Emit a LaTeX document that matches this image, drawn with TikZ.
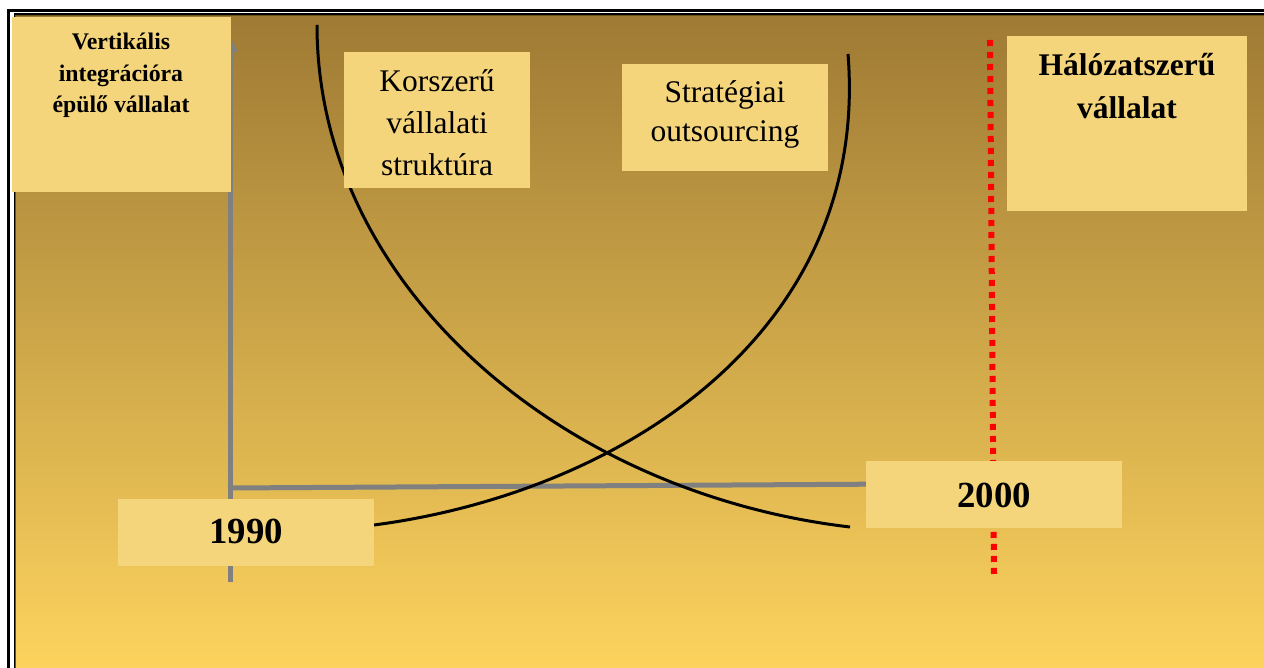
\documentclass[tikz,border=0pt]{standalone}
\usepackage{fontspec}
\setmainfont{Liberation Serif}
\usetikzlibrary{arrows.meta}

\definecolor{panelTop}{RGB}{158,122,52}
\definecolor{panelBottom}{RGB}{253,211,94}
\definecolor{panelEdge}{RGB}{110,82,30}
\definecolor{cardFill}{RGB}{245,213,124}
\definecolor{axisGray}{RGB}{128,128,128}

\begin{document}
\begin{tikzpicture}[x=1pt,y=-1pt,
  card/.style={fill=cardFill, draw=none, inner sep=0pt, anchor=north west},
  smallbold/.style={anchor=base, inner sep=0pt, font=\fontsize{23.8}{30}\selectfont\bfseries},
  bigbold/.style={anchor=base, inner sep=0pt, font=\fontsize{31.5}{40}\selectfont\bfseries},
  plain/.style={anchor=base, inner sep=0pt, font=\fontsize{31.5}{40}\selectfont},
  year/.style={anchor=base, inner sep=0pt, font=\fontsize{36.8}{44}\selectfont\bfseries},
  axis/.style={draw=axisGray, line width=5pt},
  trend/.style={draw=black, line width=3pt},
  milestone/.style={draw=red, line width=6pt, dash pattern=on 6pt off 6pt}]

\useasboundingbox (0,0) rectangle (1264,668);
\fill[white] (0,0) rectangle (1264,668);

% gradient panel with its double frame
\shade[top color=panelTop, bottom color=panelBottom] (15,15) rectangle (1264,668);
\draw[black, line width=2.6pt] (8.5,668) -- (8.5,10.3) -- (1264,10.3);
\draw[black, line width=2pt] (14.5,668) -- (14.5,14) -- (1264,14);
\draw[panelEdge, line width=1.2pt] (15.5,668) -- (15.5,15.8) -- (1264,15.8);

% time axes
\coordinate (yBottom) at (230,582);
\coordinate (yTop) at (230,37);
\coordinate (origin) at (228,488);
\coordinate (xEnd) at (900,484);
\draw[axis, -{Triangle[length=15pt,width=15pt]}] (yBottom) -- (yTop);
\draw[axis, -{Triangle[length=15pt,width=15pt]}] (origin) -- (xEnd);

% milestone at 2000
\coordinate (mTop) at (990,40);
\coordinate (mBottom) at (994,574);
\draw[milestone] (mTop) -- (mBottom);

% the two crossing trends
\coordinate (fallStart) at (317,25);
\coordinate (fallEnd) at (850,527);
\coordinate (riseStart) at (374,525);
\coordinate (riseEnd) at (848,54);
\draw[trend] (fallStart) .. controls (317,285) and (560,493) .. (fallEnd);
\draw[trend] (riseStart) .. controls (625,492) and (870,330) .. (riseEnd);

% cards
\node[card, minimum width=219pt, minimum height=175pt] (vert) at (12,17) {};
\node[smallbold] (vert1) at (121,50) {Vertikális};
\node[smallbold] (vert2) at (121,82) {integrációra};
\node[smallbold] (vert3) at (121,113) {épülő vállalat};

\node[card, minimum width=186pt, minimum height=136pt] (modern) at (344,52) {};
\node[plain] (modern1) at (437,92) {Korszerű};
\node[plain] (modern2) at (437,134) {vállalati};
\node[plain] (modern3) at (437,176) {struktúra};

\node[card, minimum width=206pt, minimum height=107pt] (outs) at (622,64) {};
\node[plain] (outs1) at (725,103) {Stratégiai};
\node[plain] (outs2) at (725,142) {outsourcing};

\node[card, minimum width=240pt, minimum height=175pt] (net) at (1007,36) {};
\node[bigbold] (net1) at (1127,76) {Hálózatszerű};
\node[bigbold] (net2) at (1127,119) {vállalat};

\node[card, minimum width=256pt, minimum height=67pt] (y1990box) at (118,499) {};
\node[year] (y1990) at (246,543) {1990};

\node[card, minimum width=256pt, minimum height=67pt] (y2000box) at (866,461) {};
\node[year] (y2000) at (994,507) {2000};

\end{tikzpicture}
\end{document}
